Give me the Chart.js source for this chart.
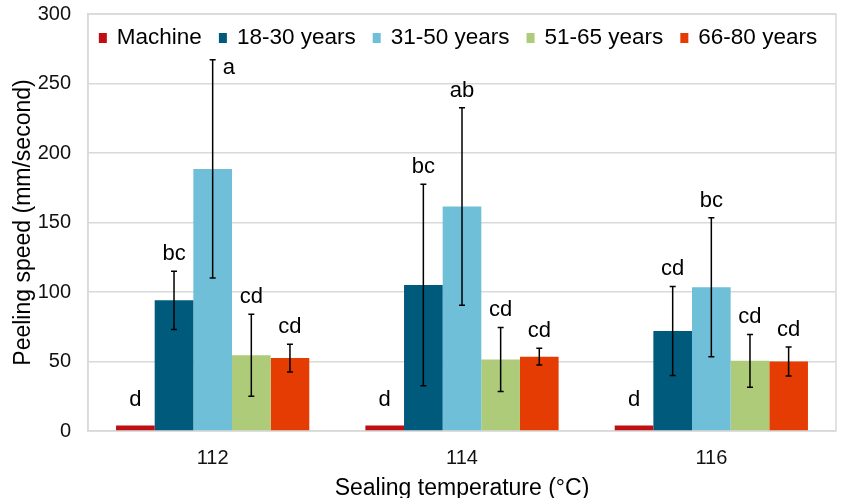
<!DOCTYPE html>
<html>
<head>
<meta charset="utf-8">
<script src="https://cdn.jsdelivr.net/npm/chart.js@4.4.1/dist/chart.umd.min.js"></script>
<style>
  html, body { margin: 0; padding: 0; background: #fff; }
  #wrap { width: 847px; height: 498px; position: relative; }
</style>
</head>
<body>
<div id="wrap"><canvas id="peelChart"></canvas></div>
<script>
// data
const temps = ['112', '114', '116'];
const seriesNames = ['Machine', '18-30 years', '31-50 years', '51-65 years', '66-80 years'];
const seriesColors = ['#C00F12', '#005A7C', '#6FBFD9', '#AECB79', '#E43C02'];

const machine = [4, 4, 4];
const age1830 = [94, 105, 72];
const age3150 = [188.5, 161.5, 103.5];
const age5165 = [54.5, 51.5, 50.5];
const age6680 = [52.5, 53.5, 50];

const machineErr = [0, 0, 0];
const err1830 = [21, 72.5, 32];
const err3150 = [78.5, 71, 50];
const err5165 = [29.5, 23, 19];
const err6680 = [10, 6, 10.5];

const machineLetters = ['d', 'd', 'd'];
const letters1830 = ['bc', 'bc', 'cd'];
const letters3150 = ['a', 'ab', 'bc'];
const letters5165 = ['cd', 'cd', 'cd'];
const letters6680 = ['cd', 'cd', 'cd'];

const yTicks = [0, 50, 100, 150, 200, 250, 300];

const allValues = [machine, age1830, age3150, age5165, age6680];
const allErrors = [machineErr, err1830, err3150, err5165, err6680];
const allLetters = [machineLetters, letters1830, letters3150, letters5165, letters6680];

const FONT = '"Liberation Sans", Arial, sans-serif';
const LEGEND_BOTTOM = 50;

// plot box outline
const boxPlugin = {
    id: 'plotBox',
    beforeDatasetsDraw(chart) {
        const { ctx, chartArea } = chart;
        ctx.save();
        ctx.strokeStyle = '#D9D9D9';
        ctx.lineWidth = 1.5;
        ctx.strokeRect(chartArea.left, chartArea.top, chartArea.right - chartArea.left, chartArea.bottom - chartArea.top);
        ctx.restore();
    }
};

// error bars + significance letters
const errorPlugin = {
    id: 'errorBars',
    afterDatasetsDraw(chart) {
        const ctx = chart.ctx;
        const yScale = chart.scales.y;
        ctx.save();
        chart.data.datasets.forEach((ds, i) => {
            const meta = chart.getDatasetMeta(i);
            meta.data.forEach((bar, j) => {
                const v = allValues[i][j];
                const e = allErrors[i][j];
                const x = bar.x;
                let topY = bar.y;
                if (e > 0) {
                    const yHi = yScale.getPixelForValue(v + e);
                    const yLo = yScale.getPixelForValue(v - e);
                    ctx.strokeStyle = '#000';
                    ctx.lineWidth = 1.5;
                    ctx.beginPath();
                    ctx.moveTo(x, yHi); ctx.lineTo(x, yLo);
                    ctx.moveTo(x - 3, yHi); ctx.lineTo(x + 3, yHi);
                    ctx.moveTo(x - 3, yLo); ctx.lineTo(x + 3, yLo);
                    ctx.stroke();
                    topY = yHi;
                }
                ctx.fillStyle = '#000';
                ctx.font = '22px ' + FONT;
                ctx.textBaseline = 'alphabetic';
                let by = topY - (e > 0 ? 11 : 19);
                if (by - 16 < LEGEND_BOTTOM) {
                    // no room above: put the letter beside the error bar
                    ctx.textAlign = 'left';
                    ctx.fillText(allLetters[i][j], x + 10, topY + 14);
                } else {
                    ctx.textAlign = 'center';
                    ctx.fillText(allLetters[i][j], x, by);
                }
            });
        });
        ctx.restore();
    }
};

// legend drawn inside the plot area
const legendPlugin = {
    id: 'innerLegend',
    afterDraw(chart) {
        const { ctx, chartArea } = chart;
        ctx.save();
        ctx.font = '22.5px ' + FONT;
        const sq = 8, sqGap = 10, itemGap = 17;
        let total = 0;
        seriesNames.forEach((n, i) => {
            total += sq + sqGap + ctx.measureText(n).width;
            if (i < seriesNames.length - 1) total += itemGap;
        });
        let x = (chartArea.left + chartArea.right) / 2 - total / 2 - 4;
        const cy = 38;
        seriesNames.forEach((n, i) => {
            ctx.fillStyle = seriesColors[i];
            ctx.fillRect(x, cy - 5, sq, 10);
            x += sq + sqGap;
            ctx.fillStyle = '#000';
            ctx.textAlign = 'left';
            ctx.textBaseline = 'middle';
            ctx.fillText(n, x, cy);
            x += ctx.measureText(n).width + itemGap;
        });
        ctx.restore();
    }
};

const ctx = document.getElementById('peelChart').getContext('2d');
new Chart(ctx, {
    type: 'bar',
    data: {
        labels: temps,
        datasets: seriesNames.map((name, i) => ({
            label: name,
            data: allValues[i],
            backgroundColor: seriesColors[i],
            borderWidth: 0,
            categoryPercentage: 0.775,
            barPercentage: 1
        }))
    },
    options: {
        responsive: true,
        maintainAspectRatio: false,
        animation: false,
        layout: { padding: { top: 14, right: 11, left: 0, bottom: 0 } },
        plugins: {
            legend: { display: false },
            tooltip: { enabled: false }
        },
        scales: {
            x: {
                grid: { display: false },
                border: { display: false },
                ticks: { color: '#111', font: { family: FONT, size: 20 }, padding: 7 },
                title: {
                    display: true,
                    text: 'Sealing temperature (°C)',
                    color: '#000',
                    font: { family: FONT, size: 23, lineHeight: 0.8 },
                    padding: 0
                },
                afterFit(scale) { scale.height = 67; }
            },
            y: {
                min: 0,
                max: 300,
                afterBuildTicks(scale) { scale.ticks = yTicks.map(v => ({ value: v })); },
                grid: { color: '#D9D9D9', lineWidth: 1.5, drawTicks: true, tickLength: 17, tickColor: 'rgba(0,0,0,0)' },
                border: { color: '#D9D9D9', width: 1.5 },
                ticks: { color: '#111', font: { family: FONT, size: 20 }, padding: 0 },
                title: {
                    display: true,
                    text: 'Peeling speed (mm/second)',
                    color: '#000',
                    font: { family: FONT, size: 23 },
                    padding: { top: 10, bottom: 0 }
                },
                afterFit(scale) { scale.width = 88; }
            }
        }
    },
    plugins: [boxPlugin, errorPlugin, legendPlugin]
});
</script>
</body>
</html>
